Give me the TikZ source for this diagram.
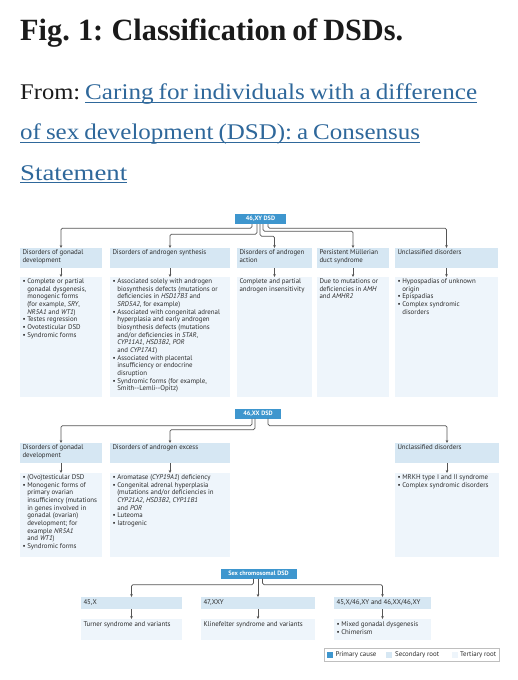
\documentclass[tikz,border=0pt]{standalone}
\usepackage{fontspec}
\usepackage{graphicx}
\setmainfont{Liberation Serif}
\newfontfamily\dsans{PT Sans}
\usetikzlibrary{arrows.meta}
\definecolor{prim}{RGB}{62,150,206}
\definecolor{sec}{RGB}{214,231,243}
\definecolor{ter}{RGB}{238,245,251}
\definecolor{txt}{RGB}{45,45,45}
\definecolor{lnk}{RGB}{47,104,155}
\definecolor{conncol}{RGB}{85,85,85}
\definecolor{ttl}{RGB}{26,26,26}
\newcommand\toppad{1.5bp}
\newcommand\bitem{\par\hangindent=4.8bp\hangafter=1\noindent\makebox[4.8bp][l]{•}}
\newcommand\dbox[7]{\node[#6, anchor=north west, inner sep=0pt, outer sep=0pt] (#1) at (#2,#3) {\parbox[c][#5bp][t]{#4bp}{\vspace*{\toppad}\raggedright\let\\\newline\leftskip=2.5bp\rightskip=-8bp plus 1fil\relax #7\par}};}
\tikzset{
  hdr/.style={fill=sec, text=txt, font=\dsans\fontsize{6.9}{7.7}\selectfont},
  cnt/.style={fill=ter, text=txt, font=\dsans\fontsize{6.9}{7.7}\selectfont},
  primbox/.style={fill=prim, text=white, font=\dsans\bfseries\fontsize{6.3}{7}\selectfont, inner sep=1bp},
  wire/.style={draw=conncol, line width=0.7bp, rounded corners=1.5bp, -{Stealth[length=3bp,width=2.6bp]}},
  legtext/.style={anchor=west, inner sep=0pt, text=txt, font=\dsans\fontsize{6.9}{7.7}\selectfont},
}
\begin{document}
\begin{tikzpicture}[x=1bp,y=-1bp]
\useasboundingbox (0,0) rectangle (518,680);
\fill[white] (0,0) rectangle (518,680);
% title
\node[anchor=base west, inner sep=0pt, text=ttl] (title) at (20,41) {\resizebox{383bp}{\height}{\fontsize{31}{31}\selectfont\bfseries\spaceskip=0.19em\relax Fig. 1: Classification of DSDs.}};
\node[anchor=base west, inner sep=0pt, text=ttl] (from) at (20,100) {\resizebox{60bp}{\height}{\fontsize{22.5}{24}\selectfont From:}};
\node[anchor=base west, inner sep=0pt, text=lnk] (lk1) at (85,100) {\resizebox{392bp}{\height}{\fontsize{22.5}{24}\selectfont\spaceskip=0.2em\relax Caring for individuals with a difference}};
\node[anchor=base west, inner sep=0pt, text=lnk] (lk2) at (20,140) {\resizebox{400bp}{\height}{\fontsize{22.5}{24}\selectfont\spaceskip=0.2em\relax of sex development (DSD): a Consensus}};
\node[anchor=base west, inner sep=0pt, text=lnk] (lk3) at (20,180) {\resizebox{107bp}{\height}{\fontsize{22.5}{24}\selectfont Statement}};
\foreach \k in {lk1,lk2,lk3}{\draw[lnk, line width=1.1bp] ([yshift=-2.5bp]\k.base west) -- ([yshift=-2.5bp]\k.base east);}

% ---------- 46,XY ----------
\node[primbox, minimum width=51bp, minimum height=10bp] (xy) at (260.5,219) {46,XY DSD};
\dbox{xh1}{20}{248}{82}{20}{hdr}{Disorders of gonadal\\development}
\dbox{xh2}{110}{248}{120}{20}{hdr}{Disorders of androgen synthesis}
\dbox{xh3}{237}{248}{75}{20}{hdr}{Disorders of androgen\\action}
\dbox{xh4}{317}{248}{72}{20}{hdr}{Persistent Müllerian\\duct syndrome}
\dbox{xh5}{395}{248}{103}{20}{hdr}{Unclassified disorders}
\dbox{xc1}{20}{277}{82}{120}{cnt}{\bitem Complete or partial\\gonadal dysgenesis,\\monogenic forms\\(for example, \textit{SRY},\\\textit{NR5A1} and \textit{WT1})\bitem Testes regression\bitem Ovotesticular DSD\bitem Syndromic forms}
\dbox{xc2}{110}{277}{120}{120}{cnt}{\bitem Associated solely with androgen\\biosynthesis defects (mutations or\\deficiencies in \textit{HSD17B3} and\\\textit{SRD5A2}, for example)\bitem Associated with congenital adrenal\\hyperplasia and early androgen\\biosynthesis defects (mutations\\and/or deficiencies in \textit{STAR},\\\textit{CYP11A1}, \textit{HSD3B2}, \textit{POR}\\and \textit{CYP17A1})\bitem Associated with placental\\insufficiency or endocrine\\disruption\bitem Syndromic forms (for example,\\Smith--Lemli--Opitz)}
\dbox{xc3}{237}{277}{75}{120}{cnt}{Complete and partial\\androgen insensitivity}
\dbox{xc4}{317}{277}{72}{120}{cnt}{Due to mutations or\\deficiencies in \textit{AMH}\\and \textit{AMHR2}}
\dbox{xc5}{395}{277}{103}{120}{cnt}{\bitem Hypospadias of unknown\\origin\bitem Epispadias\bitem Complex syndromic\\disorders}
\draw[wire] ([xshift=-8.5bp]xy.south) -- ++(0,4) -| (xh1.north);
\draw[wire] ([xshift=-3.5bp]xy.south) -- ++(0,10) -| (xh2.north);
\draw[wire] ([xshift=-0.5bp]xy.south) -- ++(0,12) -| (xh3.north);
\draw[wire] ([xshift=2.5bp]xy.south) -- ++(0,7) -| (xh4.north);
\draw[wire] ([xshift=7.5bp]xy.south) -- ++(0,4) -| (xh5.north);
\foreach \i in {1,...,5}{\draw[wire] (xh\i.south) -- (xc\i.north);}

% ---------- 46,XX ----------
\node[primbox, minimum width=46bp, minimum height=10bp] (xx) at (258,413.5) {46,XX DSD};
\dbox{dh1}{20}{443}{82}{20}{hdr}{Disorders of gonadal\\development}
\dbox{dh2}{110}{443}{120}{20}{hdr}{Disorders of androgen excess}
\dbox{dh5}{395}{443}{104}{20}{hdr}{Unclassified disorders}
\dbox{dc1}{20}{473}{82}{84}{cnt}{\bitem (Ovo)testicular DSD\bitem Monogenic forms of\\primary ovarian\\insufficiency (mutations\\in genes involved in\\gonadal (ovarian)\\development; for\\example \textit{NR5A1}\\and \textit{WT1})\bitem Syndromic forms}
\dbox{dc2}{110}{473}{120}{84}{cnt}{\bitem Aromatase (\textit{CYP19A1}) deficiency\bitem Congenital adrenal hyperplasia\\(mutations and/or deficiencies in\\\textit{CYP21A2}, \textit{HSD3B2}, \textit{CYP11B1}\\and \textit{POR}\bitem Luteoma\bitem Iatrogenic}
\dbox{dc5}{395}{473}{104}{84}{cnt}{\bitem MRKH type I and II syndrome\bitem Complex syndromic disorders}
\draw[wire] ([xshift=-6bp]xx.south) -- ++(0,7) -| (dh1.north);
\draw[wire] ([xshift=-3bp]xx.south) -- ++(0,11) -| (dh2.north);
\draw[wire] ([xshift=10bp]xx.south) -- ++(0,7) -| (dh5.north);
\foreach \i in {1,2,5}{\draw[wire] (dh\i.south) -- (dc\i.north);}

% ---------- Sex chromosomal ----------
\renewcommand\toppad{2.5bp}
\node[primbox, minimum width=76bp, minimum height=10bp] (sx) at (258.5,573.5) {Sex chromosomal DSD};
\dbox{sh1}{81}{597}{101}{12}{hdr}{45,X}
\dbox{sh2}{201}{597}{114}{12}{hdr}{47,XXY}
\dbox{sh3}{334}{597}{97}{12}{hdr}{45,X/46,XY and 46,XX/46,XY}
\dbox{sc1}{81}{619}{101}{21}{cnt}{Turner syndrome and variants}
\dbox{sc2}{201}{619}{114}{21}{cnt}{Klinefelter syndrome and variants}
\dbox{sc3}{334}{619}{97}{21}{cnt}{\bitem Mixed gonadal dysgenesis\bitem Chimerism}
\draw[wire] ([xshift=-5bp]sx.south) -- ++(0,6) -| (sh1.north);
\draw[wire] (sh2.north |- sx.south) -- (sh2.north);
\draw[wire] ([xshift=4bp]sx.south) -- ++(0,6) -| (sh3.north);
\foreach \i in {1,2,3}{\draw[wire] (sh\i.south) -- (sc\i.north);}

% ---------- legend ----------
\node[draw=black!25, line width=0.4bp, minimum width=175bp, minimum height=13bp, anchor=north west, inner sep=0pt] (leg) at (324,648) {};
\node[fill=prim, minimum size=6bp, inner sep=0pt] (lp) at (330,654.5) {};
\node[legtext] (lpt) at (335.5,654.5) {Primary cause};
\node[fill=sec, minimum size=6bp, inner sep=0pt] (ls) at (389,654.5) {};
\node[legtext] (lst) at (395,654.5) {Secondary root};
\node[fill=ter, minimum size=6bp, inner sep=0pt] (lt) at (455,654.5) {};
\node[legtext] (ltt) at (460,654.5) {Tertiary root};
\end{tikzpicture}
\end{document}
